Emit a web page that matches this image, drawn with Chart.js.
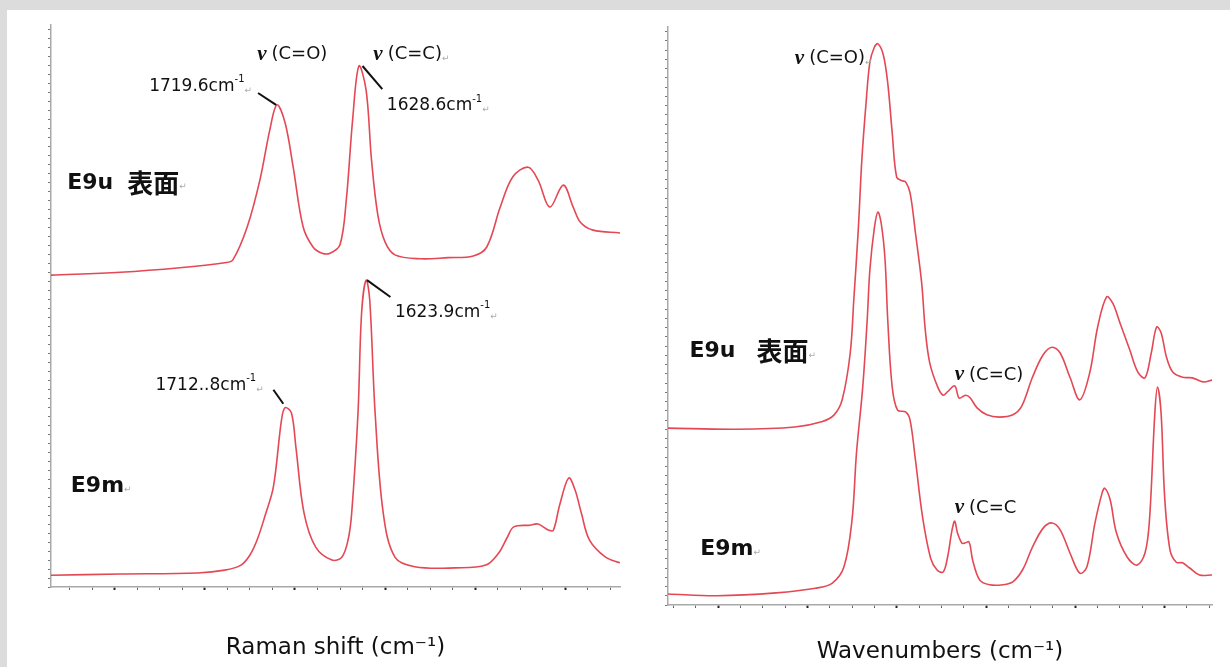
<!DOCTYPE html>
<html>
<head>
<meta charset="utf-8">
<script src="https://cdn.jsdelivr.net/npm/chart.js@4.4.0/dist/chart.umd.min.js"></script>
<style>
  body { margin: 0; background: #dcdcdc; width: 1230px; height: 667px; overflow: hidden; position: relative; }
  #panel { position: absolute; left: 7px; top: 10px; right: 0; bottom: 0; background: #fff; }
  canvas { position: absolute; top: 0; }
  #raman { left: 0; }
  #ir { left: 640px; }
</style>
</head>
<body>
<div id="panel"></div>
<canvas id="raman" width="640" height="667"></canvas>
<canvas id="ir" width="590" height="667"></canvas>
<script>
// Raman spectra (left), x in cm-1, y in arbitrary intensity 0-100
var ramanE9uShift = [1971,1894,1828,1778,1769,1753,1739,1728,1720,1711,1702,1691,1680,1670,1661,1650,1643,1636,1629,1621,1615,1608,1600,1589,1561,1530,1502,1487,1472,1458,1441,1430,1417,1402,1391,1383,1369,1339];
var ramanE9u      = [55.5,56.0,56.8,57.7,58.2,64.1,72.4,81.3,85.8,82.6,74.7,64.1,60.5,59.4,59.4,60.9,68.9,83.1,92.7,88.4,76.0,66.2,61.4,59.1,58.4,58.6,58.9,60.5,67.6,73.0,74.7,72.4,67.6,71.5,67.6,64.9,63.5,63.0];

var ramanE9mShift = [1971,1894,1808,1778,1760,1750,1742,1733,1724,1715,1711,1704,1699,1690,1677,1659,1648,1641,1637,1630,1626,1621,1617,1611,1602,1589,1567,1522,1488,1474,1464,1457,1439,1430,1418,1413,1406,1396,1389,1382,1373,1355,1339];
var ramanE9m      = [2.1,2.3,2.5,3.0,3.9,5.7,8.4,12.8,17.8,29.7,31.9,31.0,24.9,13.2,7.1,4.8,5.3,8.4,13.2,31.0,48.8,54.6,51.1,31.0,13.2,5.3,3.6,3.4,3.9,6.0,8.9,10.7,11.0,11.2,10.1,10.1,14.6,19.4,17.3,13.2,8.4,5.3,4.3];

// IR spectra (right)
var irE9uWave = [1956,1879,1814,1784,1770,1761,1752,1748,1743,1739,1734,1730,1725,1721,1715,1710,1705,1700,1694,1690,1685,1679,1672,1668,1663,1654,1648,1643,1635,1630,1623,1618,1610,1599,1585,1570,1560,1548,1536,1526,1517,1506,1495,1484,1475,1465,1458,1450,1439,1430,1422,1415,1409,1404,1398,1391,1380,1369,1357,1347];
var irE9u     = [30.6,30.4,30.8,31.7,32.9,35.5,43.6,52.8,64.9,77.0,87.4,93.9,96.5,97.1,95.2,90.3,81.7,74.0,73.4,73.2,71.3,64.4,55.7,47.6,41.9,37.7,36.3,36.9,37.9,35.8,36.3,35.9,34.1,32.9,32.5,32.9,34.4,39.4,43.3,44.6,43.6,39.4,35.5,40.1,48.1,53.3,52.2,48.8,44.1,40.3,39.3,43.6,48.1,47.1,42.9,40.3,39.4,39.3,38.6,38.9];

var irE9mWave = [1956,1901,1835,1791,1772,1759,1750,1745,1738,1733,1730,1725,1721,1717,1713,1710,1705,1699,1690,1685,1679,1671,1662,1655,1648,1643,1638,1635,1632,1627,1624,1619,1615,1607,1596,1581,1570,1559,1548,1536,1526,1517,1506,1495,1487,1478,1470,1467,1461,1454,1442,1431,1422,1417,1411,1408,1404,1400,1394,1387,1380,1372,1361,1347];
var irE9m     = [1.9,1.6,2.1,2.9,3.8,6.6,14.7,26.3,37.7,49.3,58.0,65.2,68.0,65.7,59.7,49.3,37.7,33.7,33.4,32.0,25.1,15.2,8.1,6.1,5.7,8.3,13.0,14.5,12.5,10.7,10.7,10.9,7.8,4.3,3.5,3.5,4.0,6.1,10.0,13.3,14.2,13.0,9.0,5.5,6.6,14.2,19.4,20.2,18.2,12.5,8.3,6.9,9.0,14.7,33.2,37.7,33.2,18.7,9.5,7.4,7.3,6.4,5.2,5.2];

// annotations: [x, y, parts]   parts: [text, style] or a number = gap in px
var ramanNotes = [
  [1742, 94.8, [['ν','nu'], 5, ['(C=O)','txt']]],
  [1613, 94.8, [['ν','nu'], 5, ['(C=C)','txt'], ['↵','ret']]],
  [1862, 89.1, [['1719.6cm','num'], ['-1','sup'], ['↵','ret']]],
  [1598, 85.6, [['1628.6cm','num'], ['-1','sup'], ['↵','ret']]],
  [1953, 71.9, [['E9u','bold'], 14, ['表面','cjk'], ['↵','ret']]],
  [1589, 48.8, [['1623.9cm','num'], ['-1','sup'], ['↵','ret']]],
  [1855, 35.8, [['1712..8cm','num'], ['-1','sup'], ['↵','ret']]],
  [1949, 18.0, [['E9m','bold'], ['↵','ret']]]
];
var ramanLeaders = [
  [1741, 87.9, 1721, 85.8],
  [1625, 92.7, 1603, 88.6],
  [1620, 54.6, 1594, 51.6],
  [1724, 35.1, 1713, 32.6]
];
var irNotes = [
  [1814, 94.6, [['ν','nu'], 5, ['(C=O)','txt'], ['↵','ret']]],
  [1932, 43.9, [['E9u','bold'], 21, ['表面','cjk'], ['↵','ret']]],
  [1635, 39.8, [['ν','nu'], 5, ['(C=C)','txt']]],
  [1635, 16.8, [['ν','nu'], 5, ['(C=C','txt']]],
  [1920, 9.7, [['E9m','bold'], ['↵','ret']]]
];

var STYLES = {
  nu:   { font: 'italic bold 21px "Liberation Serif"', color: '#111' },
  txt:  { font: '18px "DejaVu Sans"', color: '#111' },
  num:  { font: '17px "DejaVu Sans"', color: '#111' },
  sup:  { font: '10px "DejaVu Sans"', color: '#111', dy: -7 },
  ret:  { font: '9px "DejaVu Sans"', color: '#aaa', dy: 4 },
  bold: { font: 'bold 22px "DejaVu Sans"', color: '#111' },
  cjk:  { font: 'bold 26px "Noto Sans CJK JP"', color: '#111' }
};

function drawRich(ctx, x, y, parts) {
  parts.forEach(function(p) {
    if (typeof p === 'number') { x += p; return; }
    var st = STYLES[p[1]];
    ctx.font = st.font;
    ctx.fillStyle = st.color;
    ctx.fillText(p[0], x, y + (st.dy || 0));
    x += ctx.measureText(p[0]).width;
  });
}

var notesPlugin = {
  id: 'notes',
  afterDatasetsDraw: function(chart, args, opts) {
    var ctx = chart.ctx, xs = chart.scales.x, ys = chart.scales.y;
    ctx.save();
    ctx.strokeStyle = '#111';
    ctx.lineWidth = 2;
    (opts.leaders || []).forEach(function(l) {
      ctx.beginPath();
      ctx.moveTo(xs.getPixelForValue(l[0]), ys.getPixelForValue(l[1]));
      ctx.lineTo(xs.getPixelForValue(l[2]), ys.getPixelForValue(l[3]));
      ctx.stroke();
    });
    ctx.textBaseline = 'middle';
    ctx.textAlign = 'left';
    (opts.texts || []).forEach(function(n) {
      drawRich(ctx, xs.getPixelForValue(n[0]), ys.getPixelForValue(n[1]), n[2]);
    });
    ctx.restore();
  }
};

function pts(xs, ys) {
  return xs.map(function(v, i) { return { x: v, y: ys[i] }; });
}

function series(data) {
  return {
    data: data,
    borderColor: 'rgb(228,72,84)',
    borderWidth: 1.6,
    pointRadius: 0,
    fill: false,
    tension: 0.35
  };
}

function makeChart(id, a, b, o) {
  return new Chart(document.getElementById(id), {
    type: 'line',
    data: { datasets: [series(a), series(b)] },
    plugins: [notesPlugin],
    options: {
      responsive: false,
      animation: false,
      devicePixelRatio: 1,
      layout: { padding: { left: 0, top: o.top, right: o.right, bottom: 0 } },
      plugins: {
        legend: { display: false },
        tooltip: { enabled: false },
        notes: { texts: o.notes, leaders: o.leaders }
      },
      scales: {
        x: {
          type: 'linear',
          reverse: true,
          min: o.min,
          max: o.max,
          afterBuildTicks: function(s) {
            var t = [];
            for (var v = Math.ceil(o.min / 25) * 25; v <= o.max; v += 25) t.push({ value: v });
            s.ticks = t;
          },
          afterFit: function(s) { s.height = o.xh; },
          ticks: { display: false },
          grid: {
            drawOnChartArea: false,
            drawTicks: true,
            tickLength: 3,
            tickColor: function(c) { return c.tick && c.tick.value % 100 === 0 ? '#222' : '#666'; },
            tickWidth: function(c) { return c.tick && c.tick.value % 100 === 0 ? 2 : 1; }
          },
          border: { display: true, color: '#a9a9a9', width: 1.5 },
          title: {
            display: true,
            text: o.title,
            color: '#111',
            font: { family: 'DejaVu Sans', size: 23 },
            padding: { top: 0, bottom: o.titlePad }
          }
        },
        y: {
          min: 0,
          max: 100,
          afterBuildTicks: function(s) {
            var t = [];
            for (var v = 0; v <= 100; v += 1.6) t.push({ value: v });
            s.ticks = t;
          },
          afterFit: function(s) { s.width = o.yw; },
          ticks: { display: false },
          grid: { drawOnChartArea: false, drawTicks: true, tickLength: 3, tickColor: '#777' },
          border: { display: true, color: '#a9a9a9', width: 1.5 }
        }
      }
    }
  });
}

makeChart('raman', pts(ramanE9uShift, ramanE9u), pts(ramanE9mShift, ramanE9m), {
  min: 1339, max: 1971, top: 25, right: 20, xh: 80, yw: 51,
  title: 'Raman shift (cm⁻¹)', titlePad: 5,
  notes: ramanNotes, leaders: ramanLeaders
});

makeChart('ir', pts(irE9uWave, irE9u), pts(irE9mWave, irE9m), {
  min: 1347, max: 1956, top: 27, right: 18, xh: 62, yw: 28,
  title: 'Wavenumbers (cm⁻¹)', titlePad: 1,
  notes: irNotes, leaders: []
});
</script>
</body>
</html>
